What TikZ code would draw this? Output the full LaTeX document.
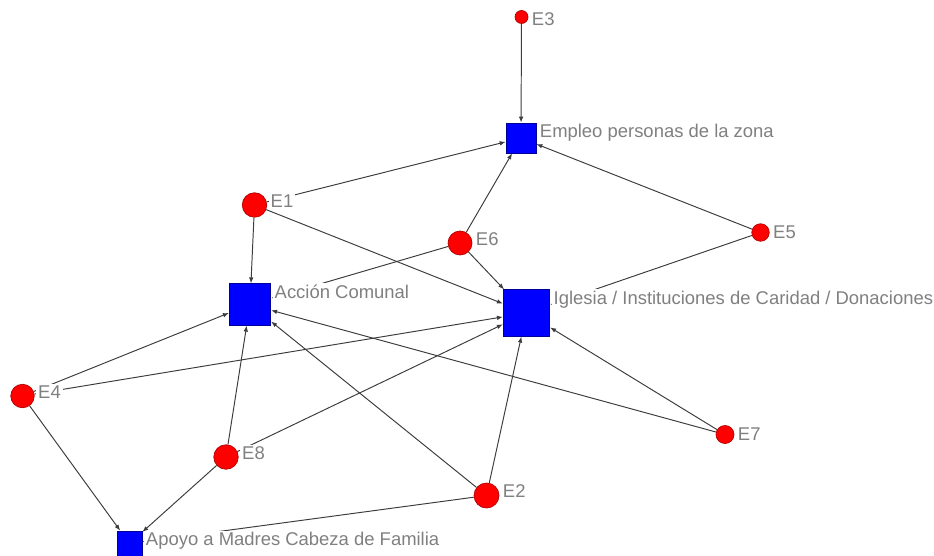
\documentclass[tikz,border=0pt]{standalone}
\usepackage{fontspec}
\setmainfont{Liberation Sans}
\usetikzlibrary{arrows.meta}
\usetikzlibrary{calc}
\definecolor{actorred}{RGB}{255,0,0}
\definecolor{groupblue}{RGB}{0,0,255}
\definecolor{linegray}{RGB}{60,60,60}
\definecolor{labelgray}{RGB}{128,128,128}
\tikzstyle{actor}=[circle,fill=actorred,draw=actorred!70!black,line width=0.4pt,inner sep=0pt]
\tikzstyle{group}=[rectangle,fill=groupblue,draw=groupblue!60!black,line width=0.4pt,inner sep=0pt]
\tikzstyle{conn} = [draw,->,line width=0.55pt,linegray]
\tikzstyle{lbl} = [font=\fontsize{10.5}{12}\selectfont,text=labelgray,fill=white,inner sep=1pt,anchor=base west]

\begin{document}
\begin{tikzpicture}[>={Latex[length=3.4pt,width=2.6pt]}]

  \def\u{0.02};

  \useasboundingbox (0,0) rectangle (934*\u, -555*\u);
  \clip (0,0) rectangle (934*\u, -555*\u);

   % actors
   \foreach \x/\y/\name/\d in {521.5/17/E3/0.26, 254.5/205/E1/0.49, 460/243/E6/0.48, 760.5/232.5/E5/0.35, 22.5/396/E4/0.47, 226/457/E8/0.49, 725/434.5/E7/0.36, 486.5/495.5/E2/0.5}
          \node[actor, minimum size=\d cm] (\name) at (\x*\u, -\y*\u) {};

   % groups
   \foreach \x/\y/\name/\d in {521/138/EMP/0.6, 250/304.5/AC/0.83, 526.5/313/IG/0.93, 129.5/543.5/AP/0.5}
          \node[group, minimum size=\d cm] (\name) at (\x*\u, -\y*\u) {};

  \foreach \source/ \dest in {E3/EMP, E1/EMP, E6/EMP, E5/EMP}
         \draw[conn] (\source) -- (\dest);

  \foreach \source/ \dest in {E1/AC, E4/AC, E8/AC, E2/AC, E7/AC, E6/AC}
         \draw[conn] (\source) -- (\dest);

  \foreach \source/ \dest in {E1/IG, E6/IG, E5/IG, E4/IG, E8/IG, E2/IG, E7/IG}
         \draw[conn] (\source) -- (\dest);

  \foreach \source/ \dest in {E4/AP, E8/AP, E2/AP}
         \draw[conn] (\source) -- (\dest);

   % labels
   \foreach \name/\text in {E1/E1, E2/E2, E3/E3, E4/E4, E5/E5, E6/E6, E7/E7, E8/E8, EMP/{Empleo personas de la zona}, AC/{Acción Comunal}, IG/{Iglesia / Instituciones de Caridad / Donaciones}, AP/{Apoyo a Madres Cabeza de Familia}}
          \node[lbl] (l\name) at ($(\name.east |- \name.north)+(0.03,-0.3)$) {\text};

\end{tikzpicture}
\end{document}
